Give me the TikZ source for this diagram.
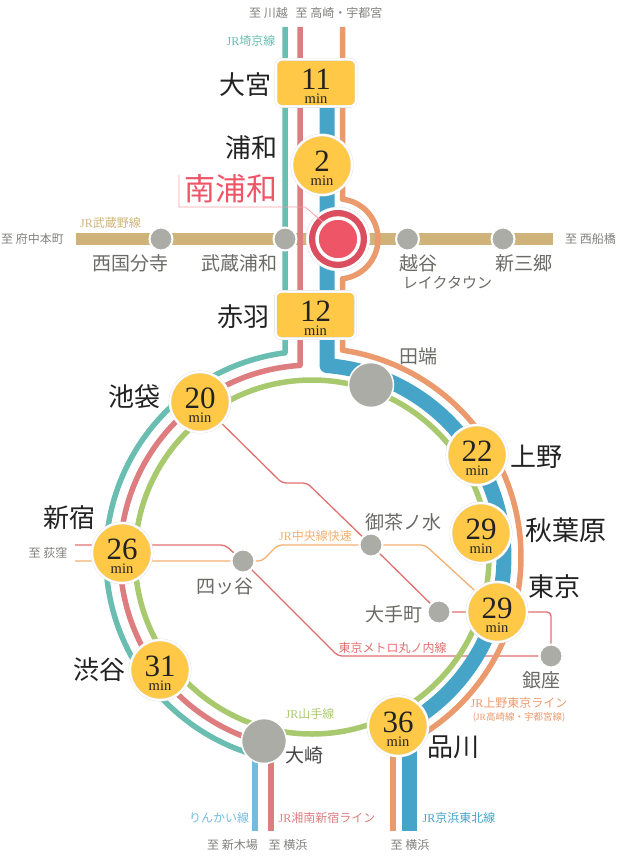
\documentclass[tikz,border=0pt]{standalone}
\usepackage{fontspec}
\setmainfont{Liberation Serif}
\newfontfamily\cjk{Noto Sans CJK JP}
\usetikzlibrary{backgrounds}
\definecolor{ink}{HTML}{222222}
\definecolor{graytext}{HTML}{6A6A66}
\definecolor{hubyellow}{HTML}{FFC947}
\definecolor{graystop}{HTML}{ACACA6}
\definecolor{saikyo}{HTML}{69BDB1}
\definecolor{shonan}{HTML}{DE7D7F}
\definecolor{keihin}{HTML}{46A4C9}
\definecolor{ueno}{HTML}{EA9A6C}
\definecolor{yamanote}{HTML}{A9C96F}
\definecolor{musashino}{HTML}{D0B37A}
\definecolor{rinkai}{HTML}{74BBDD}
\definecolor{metro}{HTML}{E0706E}
\definecolor{chuo}{HTML}{F2B071}
\definecolor{here}{HTML}{EE5567}
\newcommand{\fs}[1]{\fontsize{#1}{#1}\selectfont}
\newcommand{\JR}{{\rmfamily JR}}
\newcommand{\mins}[1]{{\fontsize{31}{14}\selectfont\rule{0pt}{27pt}#1}\\{\fontsize{14.5}{14}\selectfont min}}
\tikzstyle{hub} = [circle, fill=hubyellow, draw=black!12, double=white, double distance=2pt, line width=0.4pt, minimum size=60pt, inner sep=0, align=center, text=ink, font=\fontsize{14.5}{14}\selectfont]
\tikzstyle{hubbox} = [hub, rectangle, rounded corners=6pt, minimum width=80pt, minimum height=47pt]
\tikzstyle{small} = [circle, fill=graystop, draw=white, line width=2pt, minimum size=23pt, inner sep=0]
\tikzstyle{large} = [circle, fill=graystop, draw=white, line width=1.5pt, minimum size=45pt, inner sep=0]
\tikzstyle{bigname} = [font=\cjk\fs{26}, text=ink, inner sep=0]
\tikzstyle{midname} = [font=\cjk\fs{19}, text=graytext, inner sep=0]
\tikzstyle{goal} = [font=\cjk\fs{12}, text=graytext!85, inner sep=0]
\tikzstyle{linetag} = [font=\cjk\fs{12}, inner sep=0]
\tikzstyle{ring} = [line width=5.5pt, line join=round]
\tikzstyle{thinline} = [line width=1.3pt, rounded corners=4pt]
\newcommand{\hub}[3]{\node[hub] (#1) at (#2) {\mins{#3}};}

\begin{document}
\begin{tikzpicture}[x=1pt,y=1pt]
	\useasboundingbox (0,0) rectangle (620,-861);

	% Coordinates
	\coordinate (O) at (312,-557);
	\coordinate (barW) at (76,-239);
	\coordinate (barE) at (553,-239);

	% Hubs
	\node[hubbox] (omiya) at (316,-83) {\mins{11}};
	\node[hubbox] (akabane) at (315.5,-315) {\mins{12}};
	\hub{urawa}{322,-165}{2}
	\hub{ikebukuro}{200,-402}{20}
	\hub{shinjuku}{122,-553}{26}
	\hub{shibuya}{160,-670}{31}
	\hub{shinagawa}{398,-726}{36}
	\hub{tokyo}{497,-612}{29}
	\hub{akihabara}{481,-533}{29}
	\hub{uenoSt}{477,-455}{22}

	% Minami-Urawa
	\node[circle, fill=white, draw=black!12, line width=0.4pt, minimum size=64pt, inner sep=0] (minami) at (338,-239) {};
	\node[circle, fill=here!92!black, minimum size=58pt, inner sep=0] (minamiDisc) at (minami) {};
	\node[circle, fill=here, draw=white, line width=3.5pt, minimum size=42pt, inner sep=0] (minamiCore) at (minami) {};

	% Gray stops
	\node[small] (nishikokubunji) at (161,-239) {};
	\node[small] (musashiurawa) at (285,-239) {};
	\node[small] (koshigaya) at (407.5,-239) {};
	\node[small] (shinmisato) at (503,-239) {};
	\node[small] (yotsuya) at (243,-561) {};
	\node[small] (ochanomizu) at (371,-545) {};
	\node[small] (otemachi) at (439,-612) {};
	\node[small] (ginza) at (551,-656) {};
	\node[large] (tabata) at (371,-385) {};
	\node[large] (osaki) at (264,-741) {};

	\begin{scope}[on background layer]
		% Thin lines
		\draw[thinline, metro] (75,-545) -- (225,-545) -- (yotsuya);
		\draw[thinline, metro] (yotsuya) -- (338,-656) -- (ginza);
		\draw[thinline, metro] (ginza.center) -- (551,-612) -- (tokyo.center);
		\draw[thinline, metro] (tokyo) -- (otemachi) -- (ochanomizu) -- (307,-483) -- (282,-483) -- (ikebukuro);
		\draw[thinline, chuo] (75,-561) -- (yotsuya) -- (262,-561) -- (278,-545) -- (425,-545) -- (472,-588) -- (tokyo);

		% Musashino bar
		\draw[line width=11.5pt, musashino] (barW) -- (barE);

		% Rings
		\draw[ring, yamanote] (O) circle (177pt);
		\draw[ring, saikyo] (285,-27) -- (285,-352.8) arc[start angle=97.5, end angle=255, radius=206pt];
		\draw[ring, shonan] (300,-27) -- (300,-365.4) arc[start angle=93.6, end angle=255, radius=192pt];
		\draw[ring, line width=15pt, keihin] (327,-107) -- (327,-365.6) arc[start angle=85.5, end angle=-63, radius=192pt];
		\draw[ring, line width=15pt, keihin] (409,-726) -- (409,-831);
		\draw[ring, ueno] (342.5,-27) -- (342.5,-199.25) arc[start angle=83.5, end angle=-83.5, radius=40pt] -- (342.5,-350.2) arc[start angle=81.6, end angle=-60, radius=209pt];
		\draw[ring, ueno] (393,-726) -- (393,-831);
		\draw[ring, rinkai] (255,-741) -- (255,-831);
		\draw[ring, shonan] (271,-741) -- (271,-831);
	\end{scope}

	% Leader
	\draw[line width=0.8pt, here!55] (179,-175) -- (179,-207) -- (305,-207) -- (323,-222);

	% Names
	\node[bigname] (nOmiya) at (245.5,-85) {大宮};
	\node[bigname] (nUrawa) at (251.5,-148) {浦和};
	\node[font=\cjk\fs{31}, text=here, inner sep=0] (nMinami) at (231,-189) {南浦和};
	\node[bigname] (nAkabane) at (243.5,-317) {赤羽};
	\node[bigname] (nIkebukuro) at (134,-397) {池袋};
	\node[bigname] (nShinjuku) at (69.5,-518) {新宿};
	\node[bigname] (nShibuya) at (99,-670) {渋谷};
	\node[bigname] (nShinagawa) at (453,-747) {品川};
	\node[bigname] (nUeno) at (536.5,-457) {上野};
	\node[font=\cjk\fs{27}, text=ink, inner sep=0] (nAkihabara) at (565.5,-530) {秋葉原};
	\node[bigname] (nTokyo) at (554.5,-587) {東京};

	\node[midname] (nNishikokubunji) at (130.5,-263) {西国分寺};
	\node[midname] (nMusashiurawa) at (239.5,-263) {武蔵浦和};
	\node[midname] (nKoshigaya) at (418,-263) {越谷};
	\node[font=\cjk\fs{15}, text=graytext, inner sep=0] (nLaketown) at (447.5,-283) {レイクタウン};
	\node[midname] (nShinmisato) at (523.5,-263) {新三郷};
	\node[midname] (nTabata) at (418.5,-356) {田端};
	\node[midname] (nOchanomizu) at (403,-522) {御茶ノ水};
	\node[midname] (nYotsuya) at (224.5,-586) {四ッ谷};
	\node[midname] (nOtemachi) at (394,-614) {大手町};
	\node[midname] (nGinza) at (541,-680) {銀座};
	\node[midname, text=ink!85] (nOsaki) at (304.5,-755) {大崎};

	% Destinations
	\node[goal] (toKawagoe) at (268.5,-13) {至 川越};
	\node[goal] (toTakasaki) at (339,-13) {至 高崎・宇都宮};
	\node[goal] (toFuchu) at (32.5,-239) {至 府中本町};
	\node[goal] (toFunabashi) at (590.5,-239) {至 西船橋};
	\node[goal] (toOgikubo) at (48,-553) {至 荻窪};
	\node[goal] (toShinkiba) at (232.5,-845) {至 新木場};
	\node[goal] (toYokohamaA) at (288,-845) {至 横浜};
	\node[goal] (toYokohamaB) at (410,-845) {至 横浜};

	% Line labels
	\node[linetag, text=saikyo] (tagSaikyo) at (251,-41) {\JR 埼京線};
	\node[linetag, text=musashino] (tagMusashino) at (110.5,-223) {\JR 武蔵野線};
	\node[linetag, text=chuo] (tagChuo) at (315.5,-536) {\JR 中央線快速};
	\node[linetag, text=yamanote] (tagYamanote) at (310,-714) {\JR 山手線};
	\node[linetag, text=metro] (tagMetro) at (392.5,-648) {東京メトロ丸ノ内線};
	\node[linetag, text=ueno] (tagUeno) at (519,-703) {\JR 上野東京ライン};
	\node[font=\cjk\fs{9.5}, text=ueno, inner sep=0] (tagUenoSub) at (519,-717) {(\JR 高崎線・宇都宮線)};
	\node[linetag, text=keihin] (tagKeihin) at (459,-818) {\JR 京浜東北線};
	\node[linetag, text=shonan] (tagShonan) at (327,-818) {\JR 湘南新宿ライン};
	\node[linetag, text=rinkai] (tagRinkai) at (219,-818) {りんかい線};
\end{tikzpicture}
\end{document}
